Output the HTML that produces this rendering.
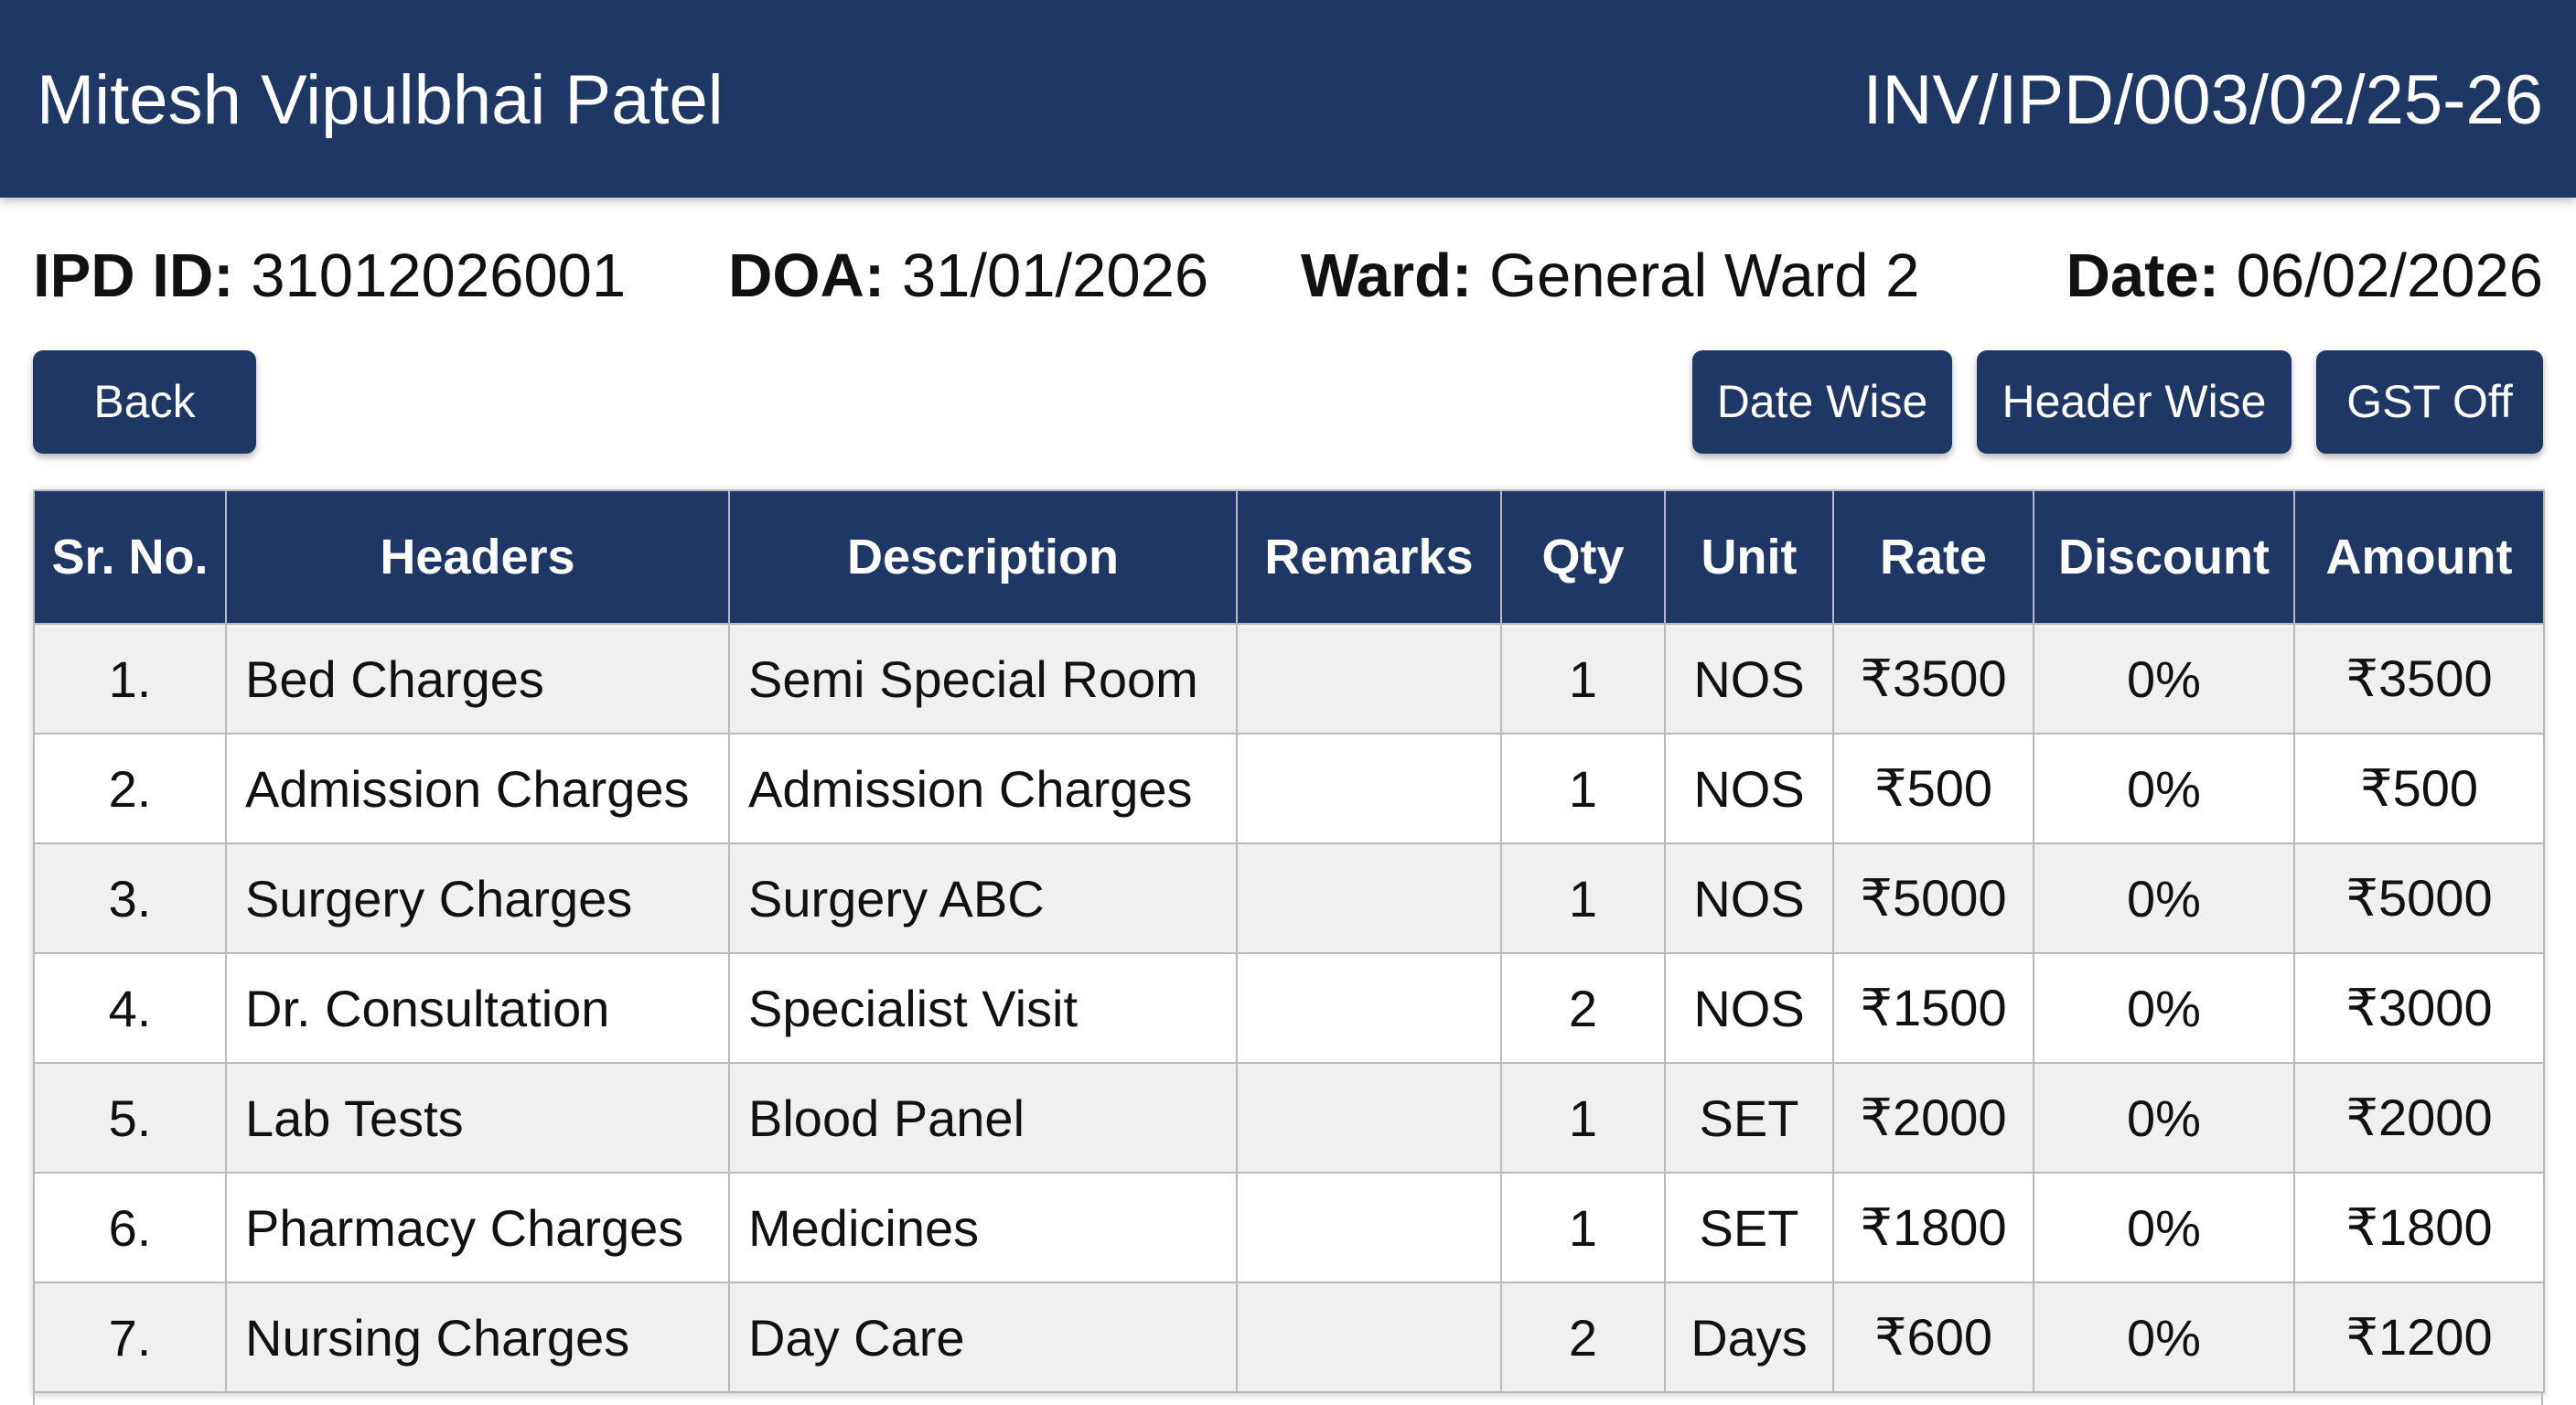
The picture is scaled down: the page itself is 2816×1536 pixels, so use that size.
<!DOCTYPE html>
<html style="width:2816px;height:1536px;overflow:hidden"><head><meta charset="utf-8"><style>
*{margin:0;padding:0;box-sizing:border-box}
body{width:2816px;height:1536px;overflow:hidden;background:#fff;font-family:"Liberation Sans",sans-serif;color:#111;position:relative}
.top{position:absolute;left:0;top:0;width:2816px;height:216px;background:#1e3765;box-shadow:0 4px 10px rgba(0,0,0,.25)}
.top div{position:absolute;top:0;height:216px;line-height:220px;color:#fff;font-size:76px}
.info{position:absolute;top:262px;font-size:67px;line-height:80px;white-space:nowrap}
.info b{font-weight:bold}
.btn{position:absolute;top:383px;height:113px;background:#1e3765;color:#fff;border-radius:11px;font-size:50px;line-height:113px;text-align:center;box-shadow:0 4px 8px rgba(0,0,0,.3)}
table{position:absolute;left:36px;top:535px;border-collapse:collapse;table-layout:fixed;width:2744px;box-shadow:0 2px 8px rgba(0,0,0,.2)}
th{background:#1e3765;color:#fff;font-size:54px;font-weight:bold;height:146px;border:2px solid #b5b9c2;text-align:center;white-space:nowrap}
td{height:120px;font-size:56px;border:2px solid #b9b9b9;text-align:center;white-space:nowrap;overflow:hidden}
tr:nth-child(odd) td{background:#f0f0f0}
td.l{text-align:left;padding-left:20px}
</style></head><body>
<div class="top"><div style="left:40px">Mitesh Vipulbhai Patel</div><div style="right:36px">INV/IPD/003/02/25-26</div></div>
<div class="info" style="left:36px"><b>IPD ID:</b> 31012026001</div>
<div class="info" style="left:796px"><b>DOA:</b> 31/01/2026</div>
<div class="info" style="left:1422px"><b>Ward:</b> General Ward 2</div>
<div class="info" style="right:36px"><b>Date:</b> 06/02/2026</div>
<div class="btn" style="left:36px;width:244px">Back</div>
<div class="btn" style="left:1850px;width:284px">Date Wise</div>
<div class="btn" style="left:2161px;width:344px">Header Wise</div>
<div class="btn" style="left:2532px;width:248px">GST Off</div>
<table>
<colgroup><col style="width:210px"><col style="width:550px"><col style="width:555px"><col style="width:289px"><col style="width:179px"><col style="width:184px"><col style="width:219px"><col style="width:285px"><col style="width:273px"></colgroup>
<thead><tr><th>Sr. No.</th><th>Headers</th><th>Description</th><th>Remarks</th><th>Qty</th><th>Unit</th><th>Rate</th><th>Discount</th><th>Amount</th></tr></thead>
<tbody>
<tr><td>1.</td><td class="l">Bed Charges</td><td class="l">Semi Special Room</td><td></td><td>1</td><td>NOS</td><td>₹3500</td><td>0%</td><td>₹3500</td></tr>
<tr><td>2.</td><td class="l">Admission Charges</td><td class="l">Admission Charges</td><td></td><td>1</td><td>NOS</td><td>₹500</td><td>0%</td><td>₹500</td></tr>
<tr><td>3.</td><td class="l">Surgery Charges</td><td class="l">Surgery ABC</td><td></td><td>1</td><td>NOS</td><td>₹5000</td><td>0%</td><td>₹5000</td></tr>
<tr><td>4.</td><td class="l">Dr. Consultation</td><td class="l">Specialist Visit</td><td></td><td>2</td><td>NOS</td><td>₹1500</td><td>0%</td><td>₹3000</td></tr>
<tr><td>5.</td><td class="l">Lab Tests</td><td class="l">Blood Panel</td><td></td><td>1</td><td>SET</td><td>₹2000</td><td>0%</td><td>₹2000</td></tr>
<tr><td>6.</td><td class="l">Pharmacy Charges</td><td class="l">Medicines</td><td></td><td>1</td><td>SET</td><td>₹1800</td><td>0%</td><td>₹1800</td></tr>
<tr><td>7.</td><td class="l">Nursing Charges</td><td class="l">Day Care</td><td></td><td>2</td><td>Days</td><td>₹600</td><td>0%</td><td>₹1200</td></tr>
</tbody></table>
<div style="position:absolute;left:36px;top:1521px;width:2744px;height:15px;overflow:hidden;border-left:2px solid #b9b9b9;border-right:2px solid #b9b9b9"></div>
</body></html>
